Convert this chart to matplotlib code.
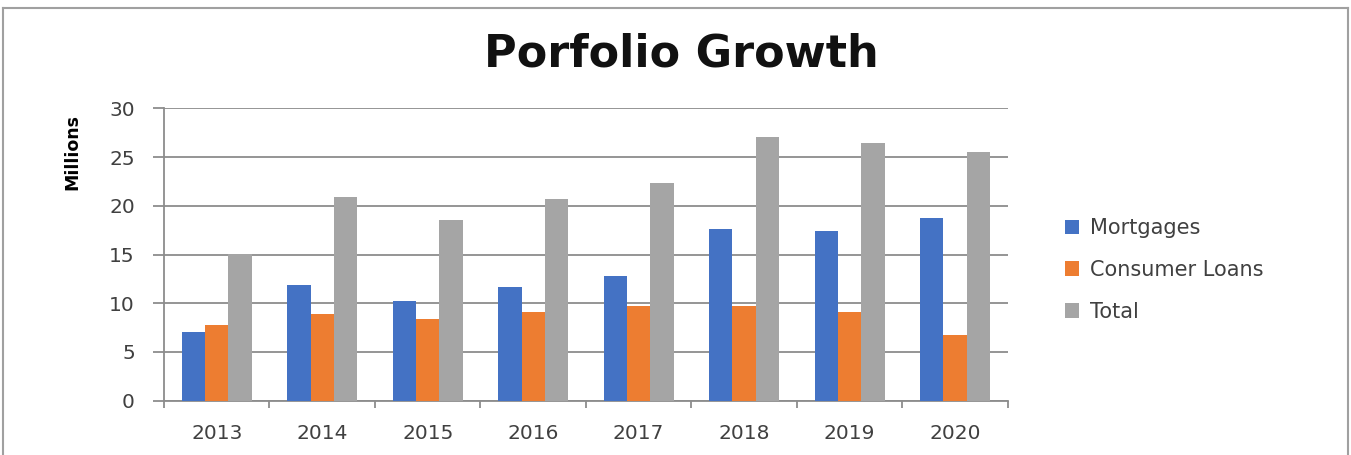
import matplotlib
matplotlib.use("Agg")
import matplotlib.pyplot as plt
import numpy as np
from matplotlib.lines import Line2D

years = ["2013", "2014", "2015", "2016", "2017", "2018", "2019", "2020"]
mortgages = [7.1, 11.9, 10.2, 11.7, 12.8, 17.6, 17.4, 18.7]
consumer_loans = [7.8, 8.9, 8.4, 9.1, 9.7, 9.7, 9.1, 6.7]
total = [15.1, 20.9, 18.5, 20.7, 22.3, 27.1, 26.4, 25.5]
series_names = ["Mortgages", "Consumer Loans", "Total"]
colors = ["#4472C4", "#ED7D31", "#A5A5A5"]

fig = plt.figure(figsize=(13.51, 4.55), dpi=100)
ax = fig.add_axes([0.1214, 0.1193, 0.6246, 0.6427])

x = np.arange(len(years))
w = 0.221
for i, (vals, name, c) in enumerate(zip([mortgages, consumer_loans, total], series_names, colors)):
    ax.bar(x + (i - 1) * w, vals, width=w, color=c, label=name, zorder=3)

ax.set_xlim(-0.5, len(years) - 0.5)
ax.set_ylim(0, 30)
ax.set_yticks(range(0, 31, 5))
ax.set_xticks(x)
ax.set_xticklabels(years)
ax.set_xticks(np.arange(-0.5, len(years), 1.0), minor=True)

gridc = "#8C8C8C"
ax.grid(axis="y", color=gridc, linewidth=1.3, zorder=0)
for s in ["top", "right"]:
    ax.spines[s].set_visible(False)
ax.spines["left"].set_color(gridc)
ax.spines["bottom"].set_color(gridc)
ax.spines["left"].set_linewidth(1.3)
ax.spines["bottom"].set_linewidth(1.3)

ax.tick_params(axis="y", which="major", length=8, width=1.3, color=gridc, pad=13,
               labelsize=14.5, labelcolor="#404040")
ax.tick_params(axis="x", which="major", length=0, pad=17, labelsize=14.5, labelcolor="#404040")
ax.tick_params(axis="x", which="minor", length=5, width=1.3, color=gridc)

fig.text(0.0533, 0.665, "Millions", rotation=90, ha="center", va="center",
         fontsize=12.5, fontweight="bold")
fig.text(0.5045, 0.882, "Porfolio Growth", ha="center", va="center",
         fontsize=32, fontweight="bold", color="#111111")

leg = ax.legend(loc="center left", bbox_to_anchor=(1.045, 0.447), frameon=False,
                fontsize=15, handlelength=0.7, handleheight=0.7,
                labelspacing=1.05, handletextpad=0.5, labelcolor="#404040")

# outer chart border (bottom cut off)
bc = "#A0A0A0"
fig.add_artist(Line2D([0.0022, 0.998], [0.982, 0.982], transform=fig.transFigure, color=bc, lw=1.5))
fig.add_artist(Line2D([0.0022, 0.0022], [0.0, 0.982], transform=fig.transFigure, color=bc, lw=1.5))
fig.add_artist(Line2D([0.998, 0.998], [0.0, 0.982], transform=fig.transFigure, color=bc, lw=1.5))

fig.savefig("out.png", dpi=100)
